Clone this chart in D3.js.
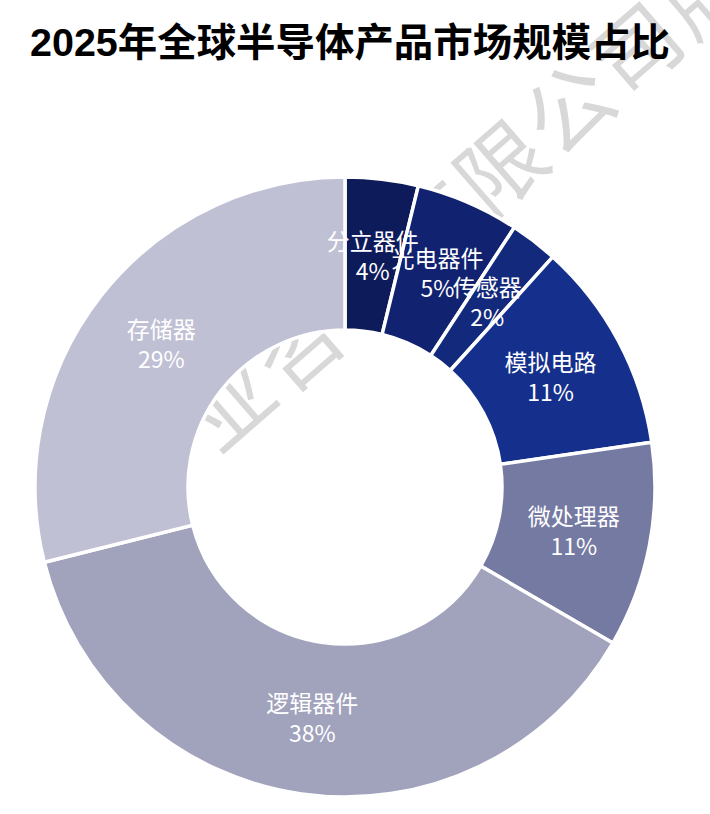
<!DOCTYPE html>
<html lang="zh">
<head>
<meta charset="UTF-8">
<title>2025年全球半导体产品市场规模占比</title>
<script src="https://d3js.org/d3.v7.min.js"></script>
<style>
    body { margin: 0; background: #fff; }
    svg { display: block; }
</style>
</head>
<body>
<div id="chart"></div>
<script>
// data (share of market, %)
const categories = ["分立器件", "光电器件", "传感器", "模拟电路", "微处理器", "逻辑器件", "存储器"];
const values = [3.8, 5.4, 2.49, 11.0, 10.7, 37.7, 28.9];
const colors = ["#0e1b5b", "#102270", "#13297c", "#15308c", "#757aa3", "#a1a3bd", "#bfc0d4"];
const title = "2025年全球半导体产品市场规模占比";
const watermark = "产业咨询有限公司版";

const width = 710, height = 814;
const cx = 345, cy = 487;
const outerR = 310, innerR = 157;

const svg = d3.select('#chart').append('svg')
    .attr('width', width)
    .attr('height', height);

// faint watermark sitting behind the donut
svg.append('text')
    .attr('transform', 'translate(150,515) rotate(-41)')
    .attr('font-family', '"Noto Sans CJK SC", sans-serif')
    .attr('font-size', 86)
    .attr('letter-spacing', 4)
    .attr('fill', '#d8d8d8')
    .text(watermark);

svg.append('text')
    .attr('x', 30)
    .attr('y', 56)
    .attr('font-family', '"Liberation Sans", "Noto Sans CJK SC", sans-serif')
    .attr('font-size', 39)
    .attr('font-weight', 'bold')
    .attr('fill', '#000')
    .attr('textLength', 640)
    .attr('lengthAdjust', 'spacingAndGlyphs')
    .text(title);

const data = categories.map((c, i) => ({ name: c, value: values[i], color: colors[i] }));

const pie = d3.pie().sort(null).value(d => d.value);
const arc = d3.arc().innerRadius(innerR).outerRadius(outerR);
const labelArc = d3.arc().innerRadius(233).outerRadius(233);

const g = svg.append('g').attr('transform', `translate(${cx},${cy})`);
const arcs = pie(data);

g.selectAll('path')
    .data(arcs)
    .enter().append('path')
    .attr('d', arc)
    .attr('fill', d => d.data.color)
    .attr('stroke', '#fff')
    .attr('stroke-width', 3.5)
    .attr('stroke-linejoin', 'miter');

const labels = g.selectAll('g.label')
    .data(arcs)
    .enter().append('g')
    .attr('class', 'label')
    .attr('transform', d => `translate(${labelArc.centroid(d)})`)
    .attr('font-family', '"Noto Sans CJK SC", sans-serif')
    .attr('font-size', 23)
    .attr('fill', '#fff')
    .attr('text-anchor', 'middle');

labels.append('text')
    .attr('y', -6)
    .text(d => d.data.name);

labels.append('text')
    .attr('y', 24)
    .text(d => Math.round(d.data.value) + '%');
</script>
</body>
</html>
